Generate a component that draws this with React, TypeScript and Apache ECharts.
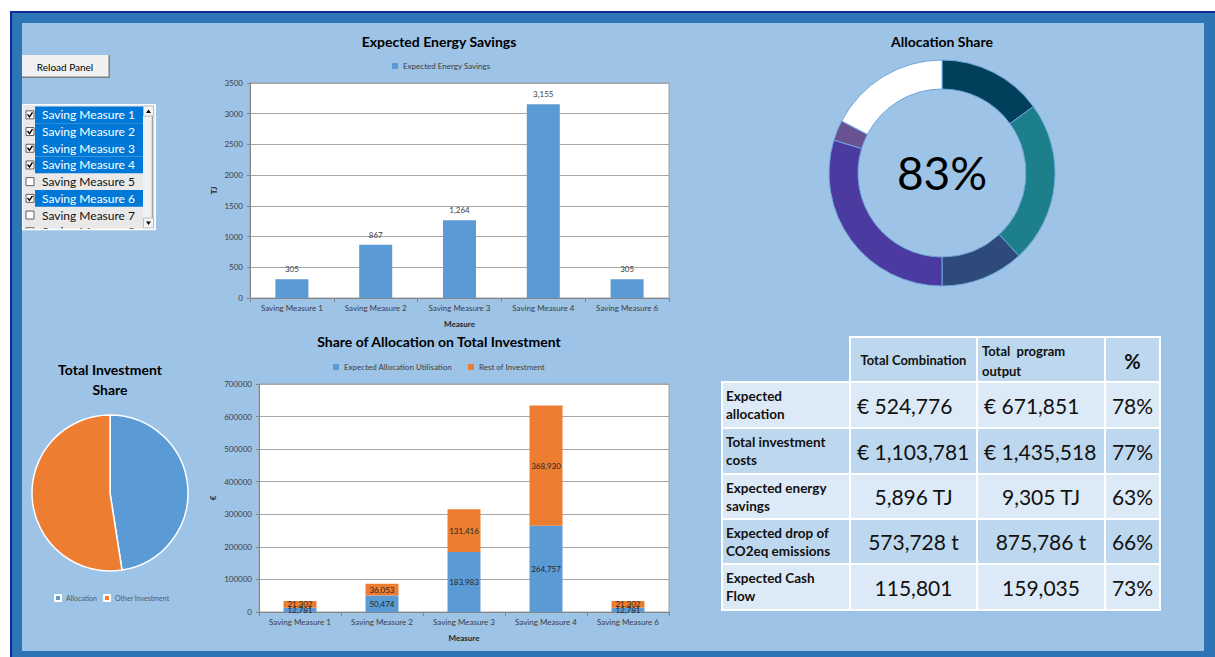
import React, { useEffect, useRef } from "react";
import * as echarts from "echarts";

const FONT = "Lato, 'Open Sans', sans-serif";

const measures = ["Saving Measure 1", "Saving Measure 2", "Saving Measure 3", "Saving Measure 4", "Saving Measure 6"];
const energySavings = [305, 867, 1264, 3155, 305];
const allocationUtil = [12781, 50474, 183983, 264757, 12781];
const restInvestment = [21302, 36053, 131416, 368930, 21302];

const donutNames = ["Share A", "Share B", "Share C", "Share D", "Share E", "Unallocated"];
const donutValues = [15.0, 23.1, 11.9, 29.7, 2.9, 17.4];
const donutColors = ["#013f5b", "#1c7f8b", "#2e4a7b", "#4b3a9f", "#6a5192", "#ffffff"];
const donutCenterText = "83%";

const pieNames = ["Allocation", "Other Investment"];
const pieValues = [524776, 579005];

const listItems = ["Saving Measure 1", "Saving Measure 2", "Saving Measure 3", "Saving Measure 4", "Saving Measure 5", "Saving Measure 6", "Saving Measure 7", "Saving Measure 8"];
const listChecked = [true, true, true, true, false, true, false, false];

const tableHeaders = ["Total Combination", "Total  program\noutput", "%"];
const rowLabels = ["Expected\nallocation", "Total investment\ncosts", "Expected energy\nsavings", "Expected drop of\nCO2eq emissions", "Expected Cash\nFlow"];
const totalCombination = ["€ 524,776", "€ 1,103,781", "5,896 TJ", "573,728 t", "115,801"];
const totalProgram = ["€ 671,851", "€ 1,435,518", "9,305 TJ", "875,786 t", "159,035"];
const percentShare = ["78%", "77%", "63%", "66%", "73%"];

const fmt = (v: any) => Number(v).toLocaleString("en-US");

function txt(text: string, x: number, y: number, size: number, opts: any = {}) {
  const align = opts.align || "left";
  return {
    type: "text",
    x,
    y,
    z: opts.z ?? 5,
    style: {
      text,
      fontSize: size,
      fontWeight: opts.bold ? "bold" : "normal",
      fontFamily: FONT,
      fill: opts.color || "#000",
      align,
      textAlign: align,
      verticalAlign: "middle",
      textVerticalAlign: "middle",
      lineHeight: opts.lineHeight,
    },
  };
}

export default function App() {
  const ref = useRef<HTMLDivElement>(null);
  useEffect(() => {
    const chart = echarts.init(ref.current!, null, { renderer: "svg", width: 1215, height: 657 });
    const g: any[] = [];

    // titles
    g.push(txt("Expected Energy Savings", 439, 41, 14, { bold: true, align: "center" }));
    g.push(txt("Share of Allocation on Total Investment", 439, 341, 14, { bold: true, align: "center" }));
    g.push(txt("Allocation Share", 942, 41, 14, { bold: true, align: "center" }));
    g.push(txt("Total Investment\nShare", 110, 379, 14, { bold: true, align: "center", lineHeight: 20 }));
    g.push(txt(donutCenterText, 942, 172, 46, { align: "center" }));

    // Reload button
    g.push({ type: "rect", shape: { x: 22, y: 55, width: 88, height: 23 }, style: { fill: "#7f7f7f" }, z: 3 });
    g.push({ type: "rect", shape: { x: 22, y: 55, width: 86.5, height: 21.5 }, style: { fill: "#f0f0f0" }, z: 4 });
    g.push(txt("Reload Panel", 65, 66.5, 10, { align: "center" }));

    // List box
    const lbX = 23, lbY = 105, lbW = 132, lbH = 124;
    g.push({ type: "rect", shape: { x: lbX - 1, y: lbY - 1, width: lbW + 2, height: lbH + 2 }, style: { fill: "#ffffff" }, z: 2 });
    g.push({ type: "rect", shape: { x: lbX, y: lbY, width: lbW, height: lbH }, style: { fill: "#e9e9e9" }, z: 3 });
    const rowH = 16.7;
    listItems.forEach((item, i) => {
      const cy = lbY + 1.5 + i * rowH + rowH / 2;
      if (listChecked[i]) {
        g.push({ type: "rect", shape: { x: 35, y: cy - rowH / 2, width: 108, height: rowH }, style: { fill: "#0078d7" }, z: 4 });
      }
      g.push({ type: "rect", shape: { x: 26, y: cy - 4, width: 8, height: 8 }, style: { fill: "#ffffff", stroke: "#606060", lineWidth: 1 }, z: 5 });
      if (listChecked[i]) {
        g.push({ type: "polyline", shape: { points: [[27.5, cy - 0.5], [29.5, cy + 2], [32.5, cy - 2.5]] }, style: { stroke: "#000", lineWidth: 1.4, fill: null }, z: 6 });
      }
      g.push(txt(item, 42, cy, 12, { color: listChecked[i] ? "#ffffff" : "#111111" }));
    });
    // cover overflow of last row
    g.push({ type: "rect", shape: { x: 22, y: lbY + lbH + 1, width: 138, height: 14 }, style: { fill: "#9dc3e6" }, z: 8 });
    g.push({ type: "line", shape: { x1: lbX - 1, y1: lbY + lbH + 0.5, x2: lbX + lbW + 1, y2: lbY + lbH + 0.5 }, style: { stroke: "#ffffff", lineWidth: 1.5 }, z: 9 });
    // scrollbar
    g.push({ type: "rect", shape: { x: 143, y: lbY, width: 12, height: lbH }, style: { fill: "#f0f0f0" }, z: 6 });
    g.push({ type: "line", shape: { x1: 152.5, y1: lbY + 11, x2: 152.5, y2: lbY + lbH - 11 }, style: { stroke: "#a0a0a0", lineWidth: 1.5 }, z: 7 });
    g.push({ type: "rect", shape: { x: 143.5, y: lbY + 1, width: 10, height: 10 }, style: { fill: "#f4f4f4", stroke: "#b0b0b0", lineWidth: 0.8 }, z: 7 });
    g.push({ type: "polygon", shape: { points: [[146, lbY + 8], [151, lbY + 8], [148.5, lbY + 4.5]] }, style: { fill: "#000" }, z: 8 });
    g.push({ type: "rect", shape: { x: 143.5, y: lbY + lbH - 11, width: 10, height: 10 }, style: { fill: "#f4f4f4", stroke: "#b0b0b0", lineWidth: 0.8 }, z: 7 });
    g.push({ type: "polygon", shape: { points: [[146, lbY + lbH - 7.5], [151, lbY + lbH - 7.5], [148.5, lbY + lbH - 4]] }, style: { fill: "#000" }, z: 8 });

    // Table
    const colX = [722, 850, 977, 1105, 1160];
    const rowY = [337, 382, 428, 474, 519, 564, 610];
    const dark = "#bdd7ee", light = "#dce9f6";
    for (let r = 0; r < 6; r++) {
      for (let c = 0; c < 4; c++) {
        if (r === 0 && c === 0) continue;
        const fill = r === 0 ? dark : r % 2 === 1 ? light : dark;
        g.push({
          type: "rect",
          shape: { x: colX[c], y: rowY[r], width: colX[c + 1] - colX[c], height: rowY[r + 1] - rowY[r] },
          style: { fill, stroke: "#ffffff", lineWidth: 2 },
          z: 3,
        });
      }
    }
    const hy = (rowY[0] + rowY[1]) / 2;
    g.push(txt(tableHeaders[0], (colX[1] + colX[2]) / 2, hy, 13, { bold: true, align: "center", color: "#111" }));
    g.push(txt(tableHeaders[1], colX[2] + 5, hy + 1, 13, { bold: true, color: "#111", lineHeight: 20 }));
    g.push(txt(tableHeaders[2], (colX[3] + colX[4]) / 2, hy + 1, 20, { bold: true, align: "center", color: "#111" }));
    const cellText = (s: string, c: number, cy: number) => {
      if (s.startsWith("€")) return txt(s, colX[c] + 7, cy, 21, { color: "#111" });
      return txt(s, (colX[c] + colX[c + 1]) / 2, cy, 21, { align: "center", color: "#111" });
    };
    for (let r = 0; r < 5; r++) {
      const cy = (rowY[r + 1] + rowY[r + 2]) / 2;
      g.push(txt(rowLabels[r], 726, cy, 13.5, { bold: true, color: "#111", lineHeight: 18 }));
      g.push(cellText(totalCombination[r], 1, cy));
      g.push(cellText(totalProgram[r], 2, cy));
      g.push(txt(percentShare[r], (colX[3] + colX[4]) / 2, cy, 21, { align: "center", color: "#111" }));
    }

    const axisLabel = { fontSize: 8, color: "#404040", fontFamily: FONT };
    const yLabel = { ...axisLabel, margin: 7, formatter: (v: number) => String(v) };
    const axisLine = { show: true, lineStyle: { color: "#868686" } };
    const splitLine = { show: true, lineStyle: { color: "#a6a6a6", width: 1 } };
    const legendText = { fontSize: 8, color: "#404040", fontFamily: FONT };

    chart.setOption({
      animation: false,
      backgroundColor: "transparent",
      textStyle: { fontFamily: FONT },
      graphic: { elements: g },
      legend: [
        {
          data: ["Expected Energy Savings"],
          left: 392, top: 62, padding: 0, itemWidth: 6, itemHeight: 6, itemGap: 10,
          textStyle: legendText, icon: "rect",
        },
        {
          data: ["Expected Allocation Utilisation", "Rest of Investment"],
          left: 333, top: 363, padding: 0, itemWidth: 6, itemHeight: 6, itemGap: 16,
          textStyle: legendText, icon: "rect",
        },
        {
          data: pieNames,
          left: 54, top: 594, padding: 0, itemWidth: 6, itemHeight: 6, itemGap: 6,
          textStyle: { fontSize: 7, color: "#595959", fontFamily: FONT }, icon: "rect",
        },
      ],
      grid: [
        { left: 250, right: 546, top: 83, bottom: 359, show: true, backgroundColor: "#ffffff", borderColor: "#a0a0a0", borderWidth: 1 },
        { left: 259, right: 546, top: 384, bottom: 45, show: true, backgroundColor: "#ffffff", borderColor: "#a0a0a0", borderWidth: 1 },
      ],
      xAxis: [
        {
          type: "category", gridIndex: 0, data: measures,
          axisLabel: { ...axisLabel, margin: 6, interval: 0 }, axisLine,
          axisTick: { show: true, length: 4, lineStyle: { color: "#868686" } },
          name: "Measure", nameLocation: "middle", nameGap: 22,
          nameTextStyle: { fontSize: 8, fontWeight: "bold", color: "#262626", fontFamily: FONT },
        },
        {
          type: "category", gridIndex: 1, data: measures,
          axisLabel: { ...axisLabel, margin: 6, interval: 0 }, axisLine,
          axisTick: { show: true, length: 4, lineStyle: { color: "#868686" } },
          name: "Measure", nameLocation: "middle", nameGap: 22,
          nameTextStyle: { fontSize: 8, fontWeight: "bold", color: "#262626", fontFamily: FONT },
        },
      ],
      yAxis: [
        {
          type: "value", gridIndex: 0, min: 0, max: 3500, interval: 500,
          axisLabel: yLabel, axisLine, splitLine,
          axisTick: { show: true, length: 3, lineStyle: { color: "#868686" } },
          name: "TJ", nameLocation: "middle", nameGap: 32,
          nameTextStyle: { fontSize: 8, fontWeight: "bold", color: "#262626", fontFamily: FONT },
        },
        {
          type: "value", gridIndex: 1, min: 0, max: 700000, interval: 100000,
          axisLabel: yLabel, axisLine, splitLine,
          axisTick: { show: true, length: 3, lineStyle: { color: "#868686" } },
          name: "€", nameLocation: "middle", nameGap: 42,
          nameTextStyle: { fontSize: 8, fontWeight: "bold", color: "#262626", fontFamily: FONT },
        },
      ],
      series: [
        {
          name: "Expected Energy Savings", type: "bar", xAxisIndex: 0, yAxisIndex: 0,
          data: energySavings, barWidth: 33, itemStyle: { color: "#5b9bd5" },
          label: { show: true, position: "top", fontSize: 8, color: "#404040", distance: 6, formatter: (p: any) => fmt(p.value) },
        },
        {
          name: "Expected Allocation Utilisation", type: "bar", xAxisIndex: 1, yAxisIndex: 1, stack: "inv",
          data: allocationUtil, barWidth: 33, itemStyle: { color: "#5b9bd5" },
          label: { show: true, position: "inside", fontSize: 8, color: "#262626", formatter: (p: any) => fmt(p.value) },
        },
        {
          name: "Rest of Investment", type: "bar", xAxisIndex: 1, yAxisIndex: 1, stack: "inv",
          data: restInvestment, barWidth: 33, itemStyle: { color: "#ed7d31" },
          label: { show: true, position: "inside", fontSize: 8, color: "#262626", formatter: (p: any) => fmt(p.value) },
        },
        {
          name: "Allocation Share", type: "pie", center: [942, 173], radius: [84, 113],
          startAngle: 90, clockwise: true, silent: true,
          label: { show: false }, labelLine: { show: false },
          itemStyle: { borderColor: "#6fa6da", borderWidth: 1 },
          data: donutNames.map((n, i) => ({ name: n, value: donutValues[i], itemStyle: { color: donutColors[i] } })),
        },
        {
          name: "Total Investment Share", type: "pie", center: [110, 493], radius: 78,
          startAngle: 90, clockwise: true, silent: true,
          label: { show: false }, labelLine: { show: false },
          itemStyle: { borderColor: "#ffffff", borderWidth: 1.5 },
          color: ["#5b9bd5", "#ed7d31"],
          data: pieNames.map((n, i) => ({ name: n, value: pieValues[i] })),
        },
      ],
    });
    return () => chart.dispose();
  }, []);

  return (
    <div style={{ position: "absolute", left: 0, top: 0, width: 1215, height: 657, background: "#ffffff", overflow: "hidden" }}>
      <div style={{ position: "absolute", left: 10, top: 11, right: 0, bottom: 0, background: "#0b2a9c" }} />
      <div style={{ position: "absolute", left: 12, top: 13, right: 0, bottom: 0, background: "#2e75b6" }} />
      <div style={{ position: "absolute", left: 22, top: 23, width: 1182, height: 628, background: "#9dc3e6" }} />
      <div ref={ref} style={{ position: "absolute", left: 0, top: 0, width: 1215, height: 657 }} />
    </div>
  );
}
